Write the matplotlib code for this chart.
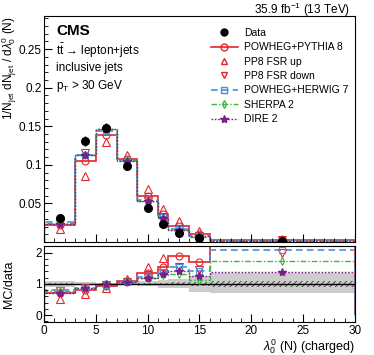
import numpy as np
import matplotlib
matplotlib.use("Agg")
import matplotlib.pyplot as plt
from matplotlib.lines import Line2D
from matplotlib.ticker import MultipleLocator, FixedLocator

plt.rcParams['font.family'] = ['Liberation Sans', 'DejaVu Sans']
plt.rcParams['mathtext.fontset'] = 'custom'
plt.rcParams['mathtext.rm'] = 'Liberation Sans'
plt.rcParams['mathtext.it'] = 'Liberation Sans:italic'
plt.rcParams['hatch.linewidth'] = 0.6

# bin edges in lambda_0^0 (N)
edges = np.array([0, 3, 5, 7, 9, 11, 12, 14, 16, 30])
centers = np.array([1.5, 4, 6, 8, 10, 11.5, 13, 15, 23])

# unfolded data
data = np.array([0.0316, 0.1305, 0.148, 0.0985, 0.0445, 0.0235, 0.0113, 0.0058, 0.0011])
unc_hi = np.array([1.10, 1.05, 1.04, 1.04, 1.08, 1.12, 1.14, 1.25, 1.34])
unc_lo = np.array([0.90, 0.95, 0.96, 0.96, 0.92, 0.87, 0.86, 0.75, 0.70])
stat = np.array([0.02, 0.01, 0.01, 0.012, 0.02, 0.04, 0.05, 0.06, 0.09])

# predictions (main panel)
pp8 = np.array([0.0221, 0.1044, 0.1391, 0.1074, 0.0601, 0.0364, 0.0212, 0.0098, 0.0029])
fsr_up = np.array([0.0164, 0.0861, 0.1302, 0.1133, 0.069, 0.0428, 0.0271, 0.0145, 0.0033])
fsr_down = np.array([0.0246, 0.1148, 0.1436, 0.1034, 0.0534, 0.0317, 0.0175, 0.0084, 0.0022])
herwig = np.array([0.0256, 0.1122, 0.1436, 0.1044, 0.0547, 0.0324, 0.0175, 0.0081, 0.0023])
sherpa = np.array([0.0240, 0.1122, 0.1465, 0.1064, 0.0534, 0.0298, 0.0150, 0.0066, 0.0019])
dire = np.array([0.0228, 0.1122, 0.1465, 0.1054, 0.0534, 0.0306, 0.0158, 0.0073, 0.0015])

red = '#e3262b'
blue = '#4a8fdc'
green = '#3cb83c'
purple = '#7b1f87'

fig = plt.figure(figsize=(3.74, 3.55), dpi=100)
ax = fig.add_axes([0.1176, 0.3183, 0.8316, 0.6366])
rax = fig.add_axes([0.1176, 0.093, 0.8316, 0.214])

ms = 5
# main panel
ax.stairs(pp8, edges, color=red, lw=1.2)
ax.plot(centers, pp8, 'o', mfc='none', mec=red, ms=ms, mew=0.8)
ax.plot(centers, fsr_up, '^', mfc='none', mec=red, ms=ms + 0.5, mew=0.8)
ax.plot(centers, fsr_down, 'v', mfc='none', mec=red, ms=ms + 0.5, mew=0.8)
ax.stairs(herwig, edges, color=blue, lw=1.2, ls=(0, (4, 2.5)))
ax.plot(centers, herwig, 's', mfc='none', mec=blue, ms=ms, mew=0.8)
ax.stairs(sherpa, edges, color=green, lw=1.0, ls=(0, (4, 1.5, 1, 1.5)))
ax.plot(centers, sherpa, 'd', mfc='none', mec=green, ms=ms - 1, mew=0.8)
ax.stairs(dire, edges, color=purple, lw=1.0, ls=(0, (1.2, 1.2)))
ax.plot(centers, dire, '*', color=purple, ms=ms + 1)
ax.errorbar(centers, data, yerr=data * (unc_hi - 1), fmt='o', color='black',
            ms=ms + 0.5, elinewidth=1.0, capsize=0)

ax.set_xlim(0, 30)
ax.set_ylim(0, 0.293)
ax.yaxis.set_major_locator(FixedLocator([0.05, 0.1, 0.15, 0.2, 0.25]))
ax.set_yticklabels(['0.05', '0.1', '0.15', '0.2', '0.25'])
ax.yaxis.set_minor_locator(MultipleLocator(0.01))
ax.xaxis.set_major_locator(MultipleLocator(5))
ax.xaxis.set_minor_locator(MultipleLocator(1))
ax.tick_params(axis='x', labelbottom=False)
for a in (ax, rax):
    a.tick_params(which='both', direction='in', top=False, right=False, labelsize=8.5)
    a.tick_params(which='major', length=6, width=0.8)
    a.tick_params(which='minor', length=3, width=0.6)
    a.tick_params(axis='y', pad=1.5)
    a.tick_params(axis='x', pad=2)
    for s in a.spines.values():
        s.set_linewidth(0.8)

ax.set_ylabel(r'1/N$_{\rm jet}$ dN$_{\rm jet}$ / d$\lambda_0^0$ (N)', fontsize=8.5, loc='top')
ax.yaxis.set_label_coords(-0.08, 1.0)

ax.text(0.04, 0.935, 'CMS', transform=ax.transAxes, fontsize=11, fontweight='bold', va='center')
ax.text(0.04, 0.845, r't$\bar{\rm t}$ → lepton+jets', transform=ax.transAxes, fontsize=8.5, va='center')
ax.text(0.04, 0.77, 'inclusive jets', transform=ax.transAxes, fontsize=8.5, va='center')
ax.text(0.04, 0.69, r'p$_{\rm T}$ > 30 GeV', transform=ax.transAxes, fontsize=8.5, va='center')
fig.text(350 / 374, 1 - 10 / 355, r'35.9 fb$^{-1}$ (13 TeV)', ha='right', va='center', fontsize=8.5)

handles = [
    Line2D([], [], color='black', marker='o', ls='none', ms=ms),
    Line2D([], [], color=red, marker='o', mfc='none', ms=ms, lw=1.2),
    Line2D([], [], color=red, marker='^', mfc='none', ls='none', ms=ms),
    Line2D([], [], color=red, marker='v', mfc='none', ls='none', ms=ms),
    Line2D([], [], color=blue, marker='s', mfc='none', ms=ms, lw=1.2, ls=(0, (4, 2.5))),
    Line2D([], [], color=green, marker='d', mfc='none', ms=ms - 1, lw=1.0, ls=(0, (4, 1.5, 1, 1.5))),
    Line2D([], [], color=purple, marker='*', ms=ms + 1, lw=1.0, ls=(0, (1.2, 1.2))),
]
labels = ['Data', 'POWHEG+PYTHIA 8', 'PP8 FSR up', 'PP8 FSR down',
          'POWHEG+HERWIG 7', 'SHERPA 2', 'DIRE 2']
ax.legend(handles, labels, loc='upper left', bbox_to_anchor=(0.52, 0.97), frameon=False,
          fontsize=7.5, handlelength=2.6, labelspacing=0.42, handletextpad=0.6, borderpad=0)

# ratio panel
rax.stairs(unc_hi, edges, baseline=unc_lo, fill=True, color='#cccccc', lw=0)
rax.stairs(1 + stat, edges, baseline=1 - stat, fill=True, facecolor='none',
           edgecolor='#333333', hatch='//////', lw=0)
rax.axhline(1, color='black', lw=1.0)
rax.stairs(pp8 / data, edges, color=red, lw=1.2)
rax.plot(centers, pp8 / data, 'o', mfc='none', mec=red, ms=ms, mew=0.8)
rax.plot(centers, fsr_up / data, '^', mfc='none', mec=red, ms=ms + 0.5, mew=0.8)
rax.plot(centers, fsr_down / data, 'v', mfc='none', mec=red, ms=ms + 0.5, mew=0.8)
rax.stairs(herwig / data, edges, color=blue, lw=1.2, ls=(0, (4, 2.5)))
rax.plot(centers, herwig / data, 's', mfc='none', mec=blue, ms=ms, mew=0.8)
rax.stairs(sherpa / data, edges, color=green, lw=1.0, ls=(0, (4, 1.5, 1, 1.5)))
rax.plot(centers, sherpa / data, 'd', mfc='none', mec=green, ms=ms - 1, mew=0.8)
rax.stairs(dire / data, edges, color=purple, lw=1.0, ls=(0, (1.2, 1.2)))
rax.plot(centers, dire / data, '*', color=purple, ms=ms + 1)

rax.set_xlim(0, 30)
rax.set_ylim(-0.22, 2.21)
rax.yaxis.set_major_locator(FixedLocator([0, 1, 2]))
rax.yaxis.set_minor_locator(MultipleLocator(0.2))
rax.xaxis.set_major_locator(MultipleLocator(5))
rax.xaxis.set_minor_locator(MultipleLocator(1))
rax.set_ylabel('MC/data', fontsize=9)
rax.yaxis.set_label_coords(-0.093, 0.5)
rax.set_xlabel(r'$\lambda_0^0$ (N) (charged)', fontsize=9, loc='right')
rax.xaxis.set_label_coords(1.0, -0.205)

fig.savefig('out.png', dpi=100)
